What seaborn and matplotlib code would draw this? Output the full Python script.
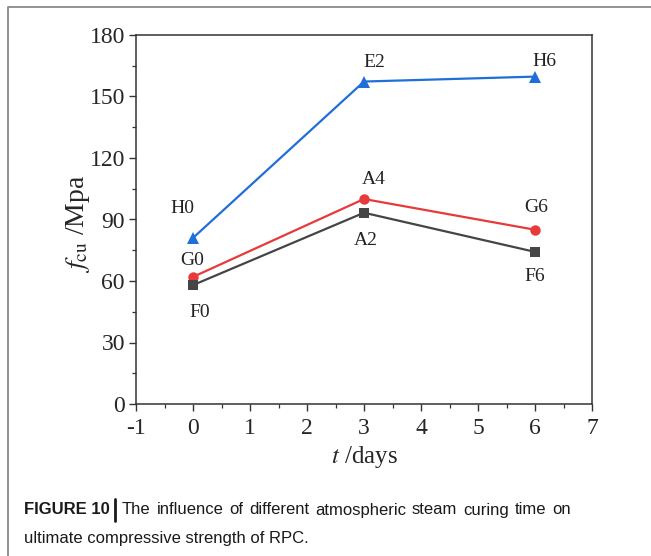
import matplotlib
matplotlib.use("Agg")
import matplotlib.pyplot as plt
from matplotlib.lines import Line2D
from matplotlib.ticker import MultipleLocator
import seaborn as sns
import pandas as pd

# Curing time (days) and ultimate compressive strength (MPa) per mix series
days = [0, 3, 6]
series_h = [81, 157.3, 159.7]
series_g = [62, 100, 85]
series_f = [58, 93.3, 74.2]
labels_h = ["H0", "E2", "H6"]
labels_g = ["G0", "A4", "G6"]
labels_f = ["F0", "A2", "F6"]

x_ticks = [-1, 0, 1, 2, 3, 4, 5, 6, 7]
y_ticks = [0, 30, 60, 90, 120, 150, 180]

df = pd.DataFrame({
    "t": days * 3,
    "fcu": series_h + series_g + series_f,
    "group": ["H"] * 3 + ["G"] * 3 + ["F"] * 3,
})

sns.set_style("ticks")
plt.rcParams["font.family"] = ["Liberation Serif", "DejaVu Serif"]
plt.rcParams["mathtext.fontset"] = "stix"

W, H = 651, 556
fig = plt.figure(figsize=(W / 100, H / 100), dpi=100)
ax = fig.add_axes([136 / W, 1 - 404 / H, (592 - 136) / W, (404 - 35) / H])

palette = {"H": "#1f6fd8", "G": "#e8393b", "F": "#454545"}
markers = {"H": "^", "G": "o", "F": "s"}
sns.lineplot(data=df, x="t", y="fcu", hue="group", style="group",
             palette=palette, markers=markers, dashes=False,
             markersize=8, linewidth=1.6, markeredgewidth=0,
             legend=False, ax=ax)

# Per-shape marker sizes so the three symbols carry similar weight
for line in ax.lines:
    m = line.get_marker()
    if m == "^":
        line.set_markersize(8.5)
    elif m == "o":
        line.set_markersize(7.5)
    elif m == "s":
        line.set_markersize(6.5)

ax.set_xlim(-1, 7)
ax.set_ylim(0, 180)
ax.set_xticks(x_ticks)
ax.set_xticklabels([str(v) for v in x_ticks])
ax.set_yticks(y_ticks)
ax.xaxis.set_minor_locator(MultipleLocator(0.5))
ax.yaxis.set_minor_locator(MultipleLocator(15))
ax.tick_params(which="major", direction="out", length=5, width=1.0,
               labelsize=17, color="#333333")
ax.tick_params(axis="x", which="major", pad=5)
ax.tick_params(axis="y", which="major", pad=3)
ax.tick_params(which="minor", direction="out", length=3, width=0.9,
               color="#333333")
for s in ax.spines.values():
    s.set_linewidth(1.1)
    s.set_color("#333333")
    s.set_visible(True)

ax.set_xlabel(r"$t$ /days", fontsize=18, labelpad=4)
ax.set_ylabel(r"$f_{\mathrm{cu}}$ /Mpa", fontsize=20)
ax.yaxis.set_label_coords((92 - 136) / 456, 0.489)

# Point labels (offsets in pixels)
offsets_h = [(-11, 29), (10, 19), (9, 15)]
offsets_g = [(-1, 16), (10, 20), (1, 22)]
offsets_f = [(7, -27), (2, -28), (0, -25)]
for vals, labs, offs in ((series_h, labels_h, offsets_h),
                         (series_g, labels_g, offsets_g),
                         (series_f, labels_f, offsets_f)):
    for x, y, lab, off in zip(days, vals, labs, offs):
        ax.annotate(lab, (x, y), xytext=off, textcoords="offset pixels",
                    ha="center", va="center", fontsize=14, color="#222222")

# Figure border
fig.add_artist(Line2D([8 / W, 8 / W, 1.0], [0.0, 1 - 7 / H, 1 - 7 / H],
                      transform=fig.transFigure, color="#8a8a8a", linewidth=1.3))

# Caption
cap_font = ["Liberation Sans", "DejaVu Sans"]
cap_size = 12
ink = "#1a1a1a"
y1, y2 = 1 - 510 / H, 1 - 538 / H
fig.text(24 / W, y1, "FIGURE 10", fontsize=cap_size, fontweight="bold",
         family=cap_font, ha="left", va="center", color=ink)
fig.add_artist(Line2D([115 / W, 115 / W], [y1 + 11 / H, y1 - 11 / H],
                      transform=fig.transFigure, color=ink, linewidth=2.0))

# First line justified between two pixel limits
renderer = fig.canvas.get_renderer()
words = "The influence of different atmospheric steam curing time on".split()
x_start, x_end = 122, 571
word_artists, widths = [], []
for w in words:
    t = fig.text(0, y1, w, fontsize=cap_size, family=cap_font,
                 ha="left", va="center", color=ink)
    widths.append(t.get_window_extent(renderer).width)
    word_artists.append(t)
gap = (x_end - x_start - sum(widths)) / (len(words) - 1)
xpos = x_start
for t, w in zip(word_artists, widths):
    t.set_x(xpos / W)
    xpos += w + gap

fig.text(24 / W, y2, "ultimate compressive strength of RPC.",
         fontsize=cap_size, family=cap_font, ha="left", va="center", color=ink)

fig.savefig("out.png", dpi=100, facecolor="white")
